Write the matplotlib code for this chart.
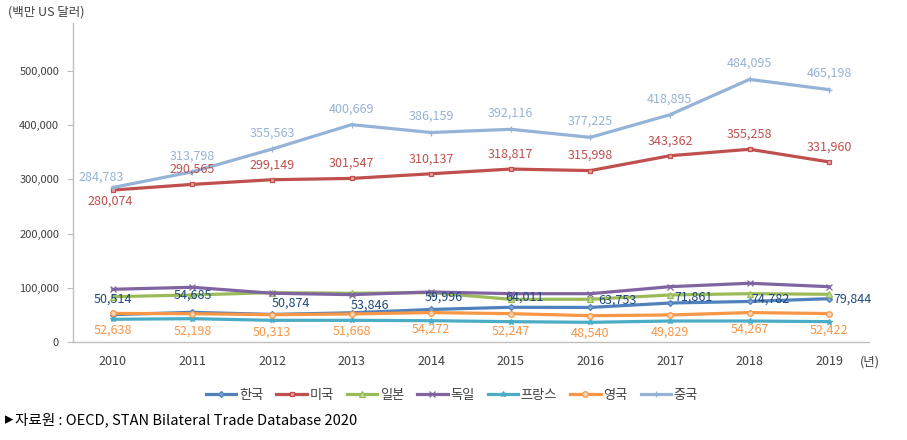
import matplotlib
matplotlib.use('Agg')
import matplotlib.pyplot as plt
from matplotlib.ticker import FuncFormatter

plt.rcParams['font.family'] = ['Noto Sans CJK KR', 'DejaVu Sans']

# 데이터 (백만 US 달러)
years = [2010, 2011, 2012, 2013, 2014, 2015, 2016, 2017, 2018, 2019]
korea = [50514, 54685, 50874, 53846, 59996, 64011, 63753, 71861, 74782, 79844]
usa = [280074, 290565, 299149, 301547, 310137, 318817, 315998, 343362, 355258, 331960]
japan = [83600, 86700, 91000, 89900, 91000, 78800, 78800, 86700, 89100, 88000]
germany = [97200, 100900, 89900, 87300, 92300, 89100, 89100, 102000, 108300, 102000]
france = [41900, 43000, 40000, 40000, 39300, 37500, 36300, 38700, 38700, 37500]
uk = [52638, 52198, 50313, 51668, 54272, 52247, 48540, 49829, 54267, 52422]
china = [284783, 313798, 355563, 400669, 386159, 392116, 377225, 418895, 484095, 465198]

names = ['한국', '미국', '일본', '독일', '프랑스', '영국', '중국']

# 라벨 위치 (픽셀 오프셋)
korea_off = [(0, 15), (0, 17), (19, 11), (18, 8), (13, 12), (14, 10), (27, 7), (24, 6), (21, 2), (23, 0)]
uk_off = [(0, -17)] * 10
china_off = [(-12, 10)] + [(0, 16)] * 9
usa_off = [(-3, -11)] + [(0, 15)] * 9

fig = plt.figure(figsize=(9.07, 4.40), dpi=100)
ax = fig.add_axes([0.0805, 0.2227, 0.8775, 0.7250])

styles = [
    (korea, '#4F81BD', 'D', '#7FA3D3', 3),
    (usa, '#C0504D', 's', '#F2A0A0', 3.5),
    (japan, '#9BBB59', '^', '#C6DDA0', 4),
    (germany, '#8064A2', 'x', '#8064A2', 4),
    (france, '#4BACC6', '*', '#4BACC6', 4),
    (uk, '#F79646', 'o', '#FCD5B4', 4),
    (china, '#95B3D7', '+', '#95B3D7', 5),
]
for (vals, c, m, fc, ms), nm in zip(styles, names):
    ax.plot(years, vals, color=c, lw=2.3, marker=m, ms=ms, mfc=fc, mec=c,
            mew=0.9, label=nm)

def put_labels(vals, offs, color):
    for x, v, (dx, dy) in zip(years, vals, offs):
        ax.annotate(f'{v:,}', (x, v), xytext=(dx, dy), textcoords='offset pixels',
                    ha='center', va='center', fontsize=9, color=color)

put_labels(china, china_off, '#95B3D7')
put_labels(usa, usa_off, '#C0504D')
put_labels(korea, korea_off, '#1F497D')
put_labels(uk, uk_off, '#F79646')

ax.set_xlim(2009.5, 2019.5)
ax.set_ylim(0, 588000)
ax.set_yticks(range(0, 500001, 100000))
ax.yaxis.set_major_formatter(FuncFormatter(lambda v, p: f'{int(v):,}'))
ax.set_xticks(years)
ax.tick_params(axis='x', length=0, pad=9, labelsize=9, labelcolor='#404040')
ax.tick_params(axis='y', length=4, color='#BFBFBF', pad=6, labelsize=8, labelcolor='#404040')
for s in ['top', 'right']:
    ax.spines[s].set_visible(False)
for s in ['left', 'bottom']:
    ax.spines[s].set_color('#BFBFBF')
    ax.spines[s].set_linewidth(1)

fig.text(8 / 907, 1 - 12 / 440, '(백만 US 달러)', fontsize=9, color='#404040', va='center')
fig.text(860 / 907, 1 - 362 / 440, '(년)', fontsize=9, color='#404040', va='center')

fig.legend(loc='center', bbox_to_anchor=(452 / 907, 1 - 395 / 440), ncol=7,
           frameon=False, fontsize=9.5, handlelength=2.3, columnspacing=1.0,
           handletextpad=0.2, labelcolor='#404040')

fig.text(5 / 907, 1 - 420 / 440, '▸', fontsize=12, color='black', va='center')
fig.text(15 / 907, 1 - 420 / 440, '자료원 : OECD, STAN Bilateral Trade Database 2020',
         fontsize=10.5, color='black', va='center')

plt.savefig('out.png', dpi=100)
